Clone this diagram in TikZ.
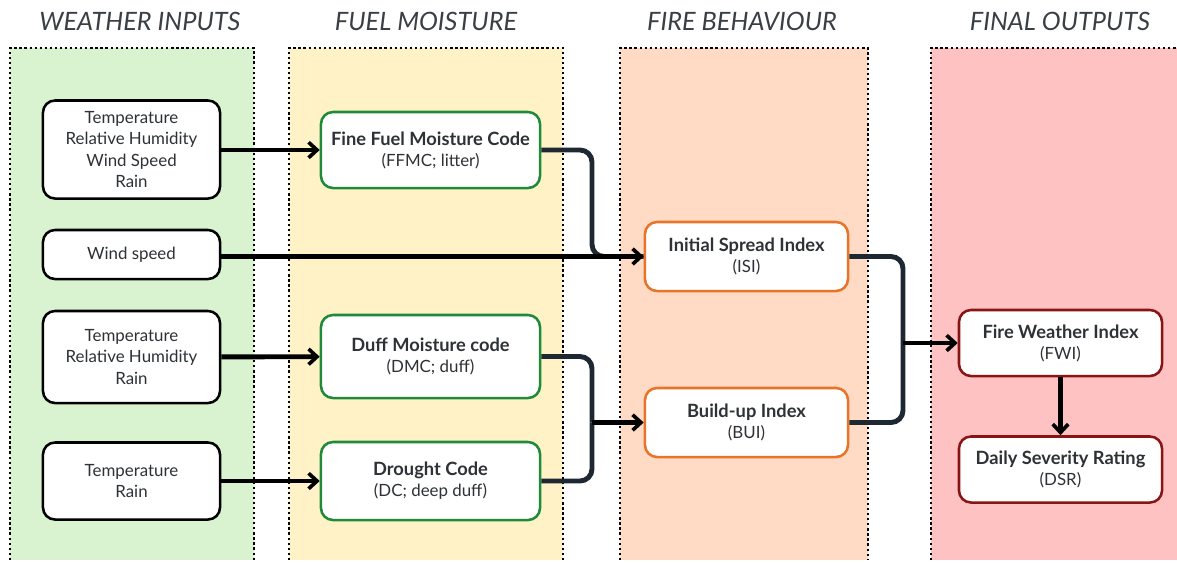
\documentclass[tikz,border=0pt]{standalone}
\usepackage{fontspec}
\setmainfont{Lato}
\usetikzlibrary{arrows.meta, positioning, calc}

\definecolor{weathergreen}{HTML}{D9F2D0}
\definecolor{fuelyellow}{HTML}{FFF2C6}
\definecolor{fireorange}{HTML}{FFDAC4}
\definecolor{finalred}{HTML}{FFC2C2}
\definecolor{boxgreen}{HTML}{1F8A3A}
\definecolor{boxorange}{HTML}{E8742A}
\definecolor{boxred}{HTML}{8A1414}
\definecolor{slate}{HTML}{1E2833}
\definecolor{titlegray}{HTML}{3A3F45}
\definecolor{textgray}{HTML}{2E3236}

\begin{document}
\begin{tikzpicture}[x=0.025cm, y=-0.025cm,
		panel/.style = {draw=black, line width=1.6pt, dotted},
		title/.style = {font=\fontsize{18}{20}\selectfont\itshape, text=titlegray},
		inbox/.style = {draw=black, line width=1.8pt, rounded corners=0.3cm, fill=white, align=center,
			font=\fontsize{12}{15}\selectfont, text=textgray, minimum width=4.425cm, inner sep=0pt},
		codebox/.style = {inbox, draw=boxgreen, minimum width=5.475cm},
		firebox/.style = {inbox, draw=boxorange, minimum width=5.075cm, minimum height=1.725cm},
		outbox/.style = {inbox, draw=boxred, minimum width=5.075cm, minimum height=1.65cm},
		feed/.style = {draw=slate, line width=3.5pt, rounded corners=0.3cm},
		flow/.style = {draw=black, line width=3.5pt, -{Straight Barb[length=6pt, width=11pt, line width=2.6pt]}}]
	\useasboundingbox (0,0) rectangle (1177,562);

	% columns
	\fill[weathergreen] (10,48) rectangle (254,560);
	\draw[panel] (10,560) -- (10,48) -- (254,48) -- (254,560);
	\fill[fuelyellow] (289,48) rectangle (563,560);
	\draw[panel] (289,560) -- (289,48) -- (563,48) -- (563,560);
	\fill[fireorange] (620,48) rectangle (868,560);
	\draw[panel] (620,560) -- (620,48) -- (868,48) -- (868,560);
	\fill[finalred] (931,48) rectangle (1177,560);
	\draw[panel] (931,560) -- (931,48) -- (1177,48);

	\node[title] (tweather) at (140,21) {WEATHER INPUTS};
	\node[title] (tfuel) at (426,21) {FUEL MOISTURE};
	\node[title] (tfire) at (742,21) {FIRE BEHAVIOUR};
	\node[title] (tfinal) at (1060,21) {FINAL OUTPUTS};

	% weather inputs
	\node[inbox, minimum height=2.45cm] (in1) at (131.5,149.5) {Temperature\\Relative Humidity\\Wind Speed\\Rain};
	\node[inbox, minimum height=1.225cm] (in2) at (131.5,254.5) {Wind speed};
	\node[inbox, minimum height=2.3cm] (in3) at (131.5,357) {Temperature\\Relative Humidity\\Rain};
	\node[inbox, minimum height=1.925cm] (in4) at (131.5,481) {Temperature\\Rain};

	% fuel moisture codes
	\node[codebox, minimum height=1.9cm] (ffmc) at (430.5,150) {{\fontsize{13}{15}\selectfont\bfseries Fine Fuel Moisture Code}\\(FFMC; litter)};
	\node[codebox, minimum height=2.075cm] (dmc) at (430.5,356.5) {{\fontsize{13}{15}\selectfont\bfseries Duff Moisture code}\\(DMC; duff)};
	\node[codebox, minimum height=1.95cm] (dc) at (430.5,481) {{\fontsize{13}{15}\selectfont\bfseries Drought Code}\\(DC; deep duff)};

	% fire behaviour
	\node[firebox] (isi) at (746.5,256.5) {{\fontsize{13}{15}\selectfont\bfseries Initial Spread Index}\\(ISI)};
	\node[firebox] (bui) at (746.5,422.5) {{\fontsize{13}{15}\selectfont\bfseries Build-up Index}\\(BUI)};

	% outputs
	\node[outbox] (fwi) at (1060.5,343) {{\fontsize{13}{15}\selectfont\bfseries Fire Weather Index}\\(FWI)};
	\node[outbox] (dsr) at (1060.5,469.5) {{\fontsize{13}{15}\selectfont\bfseries Daily Severity Rating}\\(DSR)};

	\coordinate (isijoin) at (592,256.5);
	\coordinate (buijoin) at (592,422.5);
	\coordinate (fwijoin) at (903,343);

	\draw[feed] (ffmc.east) -| (isijoin) -- (isi.west);
	\draw[feed] (dmc.east) -| (buijoin);
	\draw[feed] (dc.east) -| (buijoin);
	\draw[feed] (isi.east) -| (fwijoin);
	\draw[feed] (bui.east) -| (fwijoin);

	\draw[flow] (in1.east |- ffmc) -- (ffmc.west);
	\draw[flow] (in2.east |- isi) -- (isi.west);
	\draw[flow] (in3) -- (dmc);
	\draw[flow] (in4) -- (dc);
	\draw[flow] (buijoin) -- (bui.west);
	\draw[flow] (fwijoin) -- (fwi.west);
	\draw[flow] (fwi) -- (dsr);
\end{tikzpicture}
\end{document}
